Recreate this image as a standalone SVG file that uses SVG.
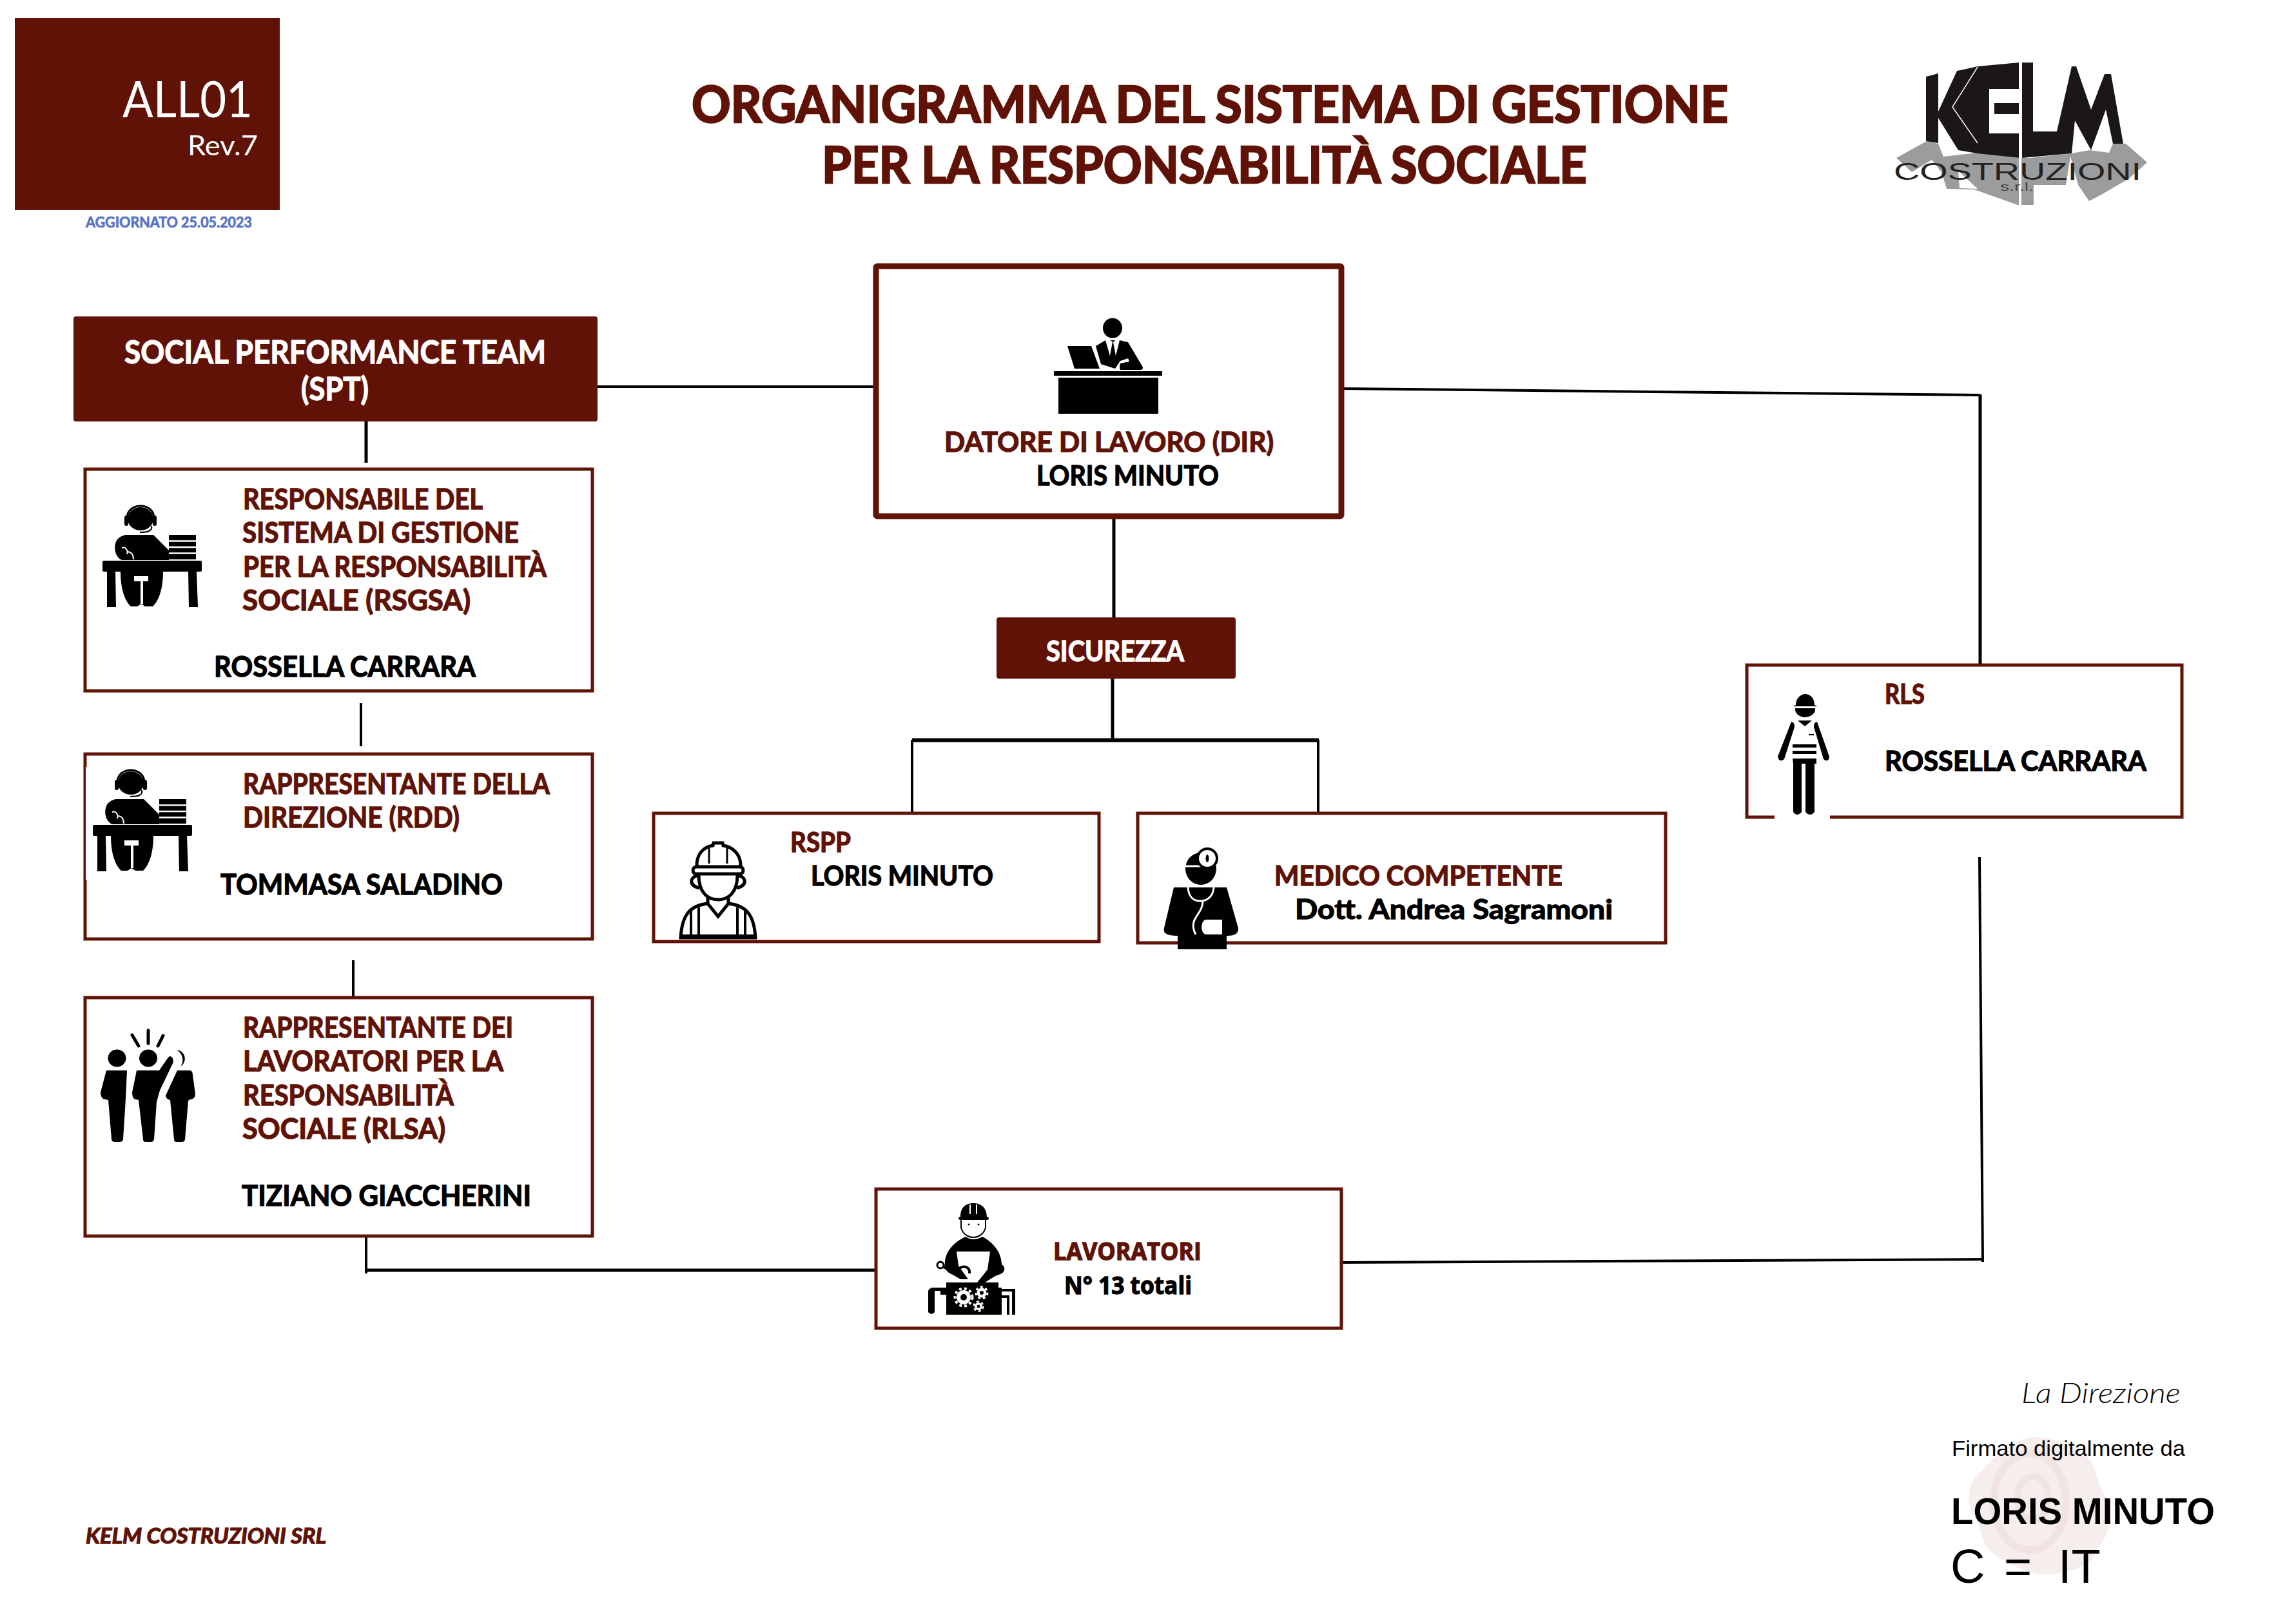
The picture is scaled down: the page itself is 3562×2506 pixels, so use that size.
<svg xmlns="http://www.w3.org/2000/svg" width="3562" height="2506" viewBox="0 0 3562 2506">
<style>
text{font-family:Lato,"Liberation Sans",sans-serif;font-weight:700;fill:#000;stroke:#000;stroke-width:1.3}
text.r,.r text{fill:#5f1205;stroke:#5f1205}
text.w{fill:#fff;stroke:#fff}
text.t{stroke-width:2.6}
text.n{stroke:none}
.box{fill:#fff;stroke:#5f1205;stroke-width:5}
.fill{fill:#5f1205}
.c{fill:none;stroke:#000;stroke-width:4}
.o{font-family:"Open Sans","Liberation Sans",sans-serif}
.l{font-family:"Liberation Sans",sans-serif}
</style>
<defs>
<g id="deskp">
<ellipse cx="59" cy="23" rx="20" ry="18"/>
<path d="M38 24C36 -4 82 -4 80 24" fill="none" stroke="#000" stroke-width="3"/>
<rect x="34" y="18" width="6" height="16" rx="3"/><rect x="78" y="18" width="6" height="16" rx="3"/>
<path d="M76 34C78 42 70 44 58 44" fill="none" stroke="#000" stroke-width="2"/>
<path d="M35 48H79L103 72V87H30C18 82 16 62 24 54Q28 50 35 48Z"/>
<path d="M30 68C36 66 40 72 38 78M38 74C44 74 48 78 48 86" fill="none" stroke="#fff" stroke-width="2"/>
<rect x="103" y="48" width="42" height="38"/>
<path d="M103 57.5h42M103 67h42M103 76.5h42" stroke="#fff" stroke-width="2.5"/>
<rect x="0" y="88" width="154" height="17" rx="2"/>
<path d="M7 105H20L21 160H7ZM133 105H146L148 160H134Z"/>
<path d="M28 105H94C94 130 88 150 78 159H66L60 155 54 159H44C34 150 28 130 28 105Z"/>
<path d="M49 112H71V120H63V155H59V120H49Z" fill="#fff"/>
</g>
</defs>

<g id="connectors" class="c">
<path d="M923 600H1360"/>
<path d="M568 652V718" stroke-width="5"/>
<path d="M560 1091V1158"/>
<path d="M548 1490V1555"/>
<path d="M568 1892V1976"/>
<path d="M568 1971H1360" stroke-width="5"/>
<path d="M1728 800V960" stroke-width="5"/>
<path d="M1726 1052V1148" stroke-width="5"/>
<path d="M1415 1148.500H2046" stroke-width="6"/>
<path d="M1415 1148V1262"/>
<path d="M2045 1148V1262"/>
<path d="M2080 603L3072 613"/>
<path d="M3072 612V1032" stroke-width="5"/>
<path d="M3071 1330L3076 1958"/>
<path d="M2078 1959L3076 1954"/>
</g>

<g id="header">
<rect x="23" y="28" width="411" height="298" class="fill"/>
<text x="190" y="182" font-size="78" textLength="202" lengthAdjust="spacingAndGlyphs" class="w n" style="font-weight:400">ALL01</text>
<text x="291" y="241" font-size="42" textLength="109" lengthAdjust="spacingAndGlyphs" class="w n" style="font-weight:400">Rev.7</text>
<text x="133" y="353" font-size="22" textLength="258" lengthAdjust="spacingAndGlyphs" style="fill:#5a72c5;stroke:#5a72c5;stroke-width:.7">AGGIORNATO 25.05.2023</text>
<text x="1073" y="190" font-size="78" textLength="1608" lengthAdjust="spacingAndGlyphs" class="r t">ORGANIGRAMMA DEL SISTEMA DI GESTIONE</text>
<text x="1275" y="284" font-size="78" textLength="1187" lengthAdjust="spacingAndGlyphs" class="r t">PER LA RESPONSABILITÀ SOCIALE</text>
</g>

<g id="logo">
<path fill="#9b9c9e" d="M2942 245L2989 219 3007 223 3015 243 3068 237 3132 245H3150L3214 238 3242 233 3272 237 3278 223 3298 223 3331 252 3303 277 3260 302 3241 312 3224 287 3155 287V318H3130L3063 294 3020 293 3012 267 2997 248 2966 267Z"/>
<path fill="#fff" d="M3038 265L3068 293 3040 292ZM3212 243L3224 287 3205 287Z"/>
<path fill="#1a1716" d="M2988 119L3007 114V222L2988 219Z"/>
<path fill="#1a1716" fill-rule="evenodd" d="M3036 110L3068 103 3133 97V138H3086V207H3133V245L3068 238 3038 233 3007 183V173Z"/>
<rect x="3094" y="160" width="39" height="17" fill="#1a1716"/>
<path d="M3068 104L3029 166 3068 222" fill="none" stroke="#fff" stroke-width="1.500"/>
<path fill="#1a1716" d="M3137 97H3154V204H3191L3214 103 3221 103 3244 170 3265 115 3275 115 3294 223 3278 223 3267 170 3244 233 3219 187 3214 238 3137 245Z"/>
<rect x="3132" y="97" width="4" height="221" fill="#fff"/>
<text x="2938" y="279" font-size="36" textLength="384" lengthAdjust="spacingAndGlyphs" class="l n" style="font-weight:400;fill:#222">COSTRUZIONI</text>
<text x="3103" y="296" font-size="18" textLength="52" lengthAdjust="spacingAndGlyphs" class="l n" style="font-weight:400;fill:#444">s.r.l.</text>
</g>

<g id="spt">
<rect x="114" y="491" width="813" height="163" rx="4" class="fill"/>
<text x="193" y="564" font-size="49" textLength="654" lengthAdjust="spacingAndGlyphs" class="w">SOCIAL PERFORMANCE TEAM</text>
<text x="467" y="621" font-size="49" textLength="105" lengthAdjust="spacingAndGlyphs" class="w">(SPT)</text>
</g>

<g id="rsgsa">
<rect x="132" y="728" width="787" height="344" class="box"/>
<use href="#deskp" x="159" y="782"/>
<g class="r" font-size="44">
<text x="377" y="790" textLength="372" lengthAdjust="spacingAndGlyphs">RESPONSABILE DEL</text>
<text x="376" y="842" textLength="429" lengthAdjust="spacingAndGlyphs">SISTEMA DI GESTIONE</text>
<text x="377" y="895" textLength="471" lengthAdjust="spacingAndGlyphs">PER LA RESPONSABILITÀ</text>
<text x="376" y="947" textLength="354" lengthAdjust="spacingAndGlyphs">SOCIALE (RSGSA)</text>
</g>
<text x="332" y="1050" font-size="44" textLength="406" lengthAdjust="spacingAndGlyphs">ROSSELLA CARRARA</text>
</g>

<g id="rdd">
<rect x="132" y="1170" width="787" height="287" class="box"/>
<rect x="133" y="1190" width="20" height="175" fill="#fff"/>
<use href="#deskp" x="144" y="1192"/>
<g class="r" font-size="44">
<text x="377" y="1232" textLength="476" lengthAdjust="spacingAndGlyphs">RAPPRESENTANTE DELLA</text>
<text x="377" y="1284" textLength="336" lengthAdjust="spacingAndGlyphs">DIREZIONE (RDD)</text>
</g>
<text x="342" y="1388" font-size="44" textLength="438" lengthAdjust="spacingAndGlyphs">TOMMASA SALADINO</text>
</g>

<g id="rlsa">
<rect x="132" y="1548" width="787" height="370" class="box"/>
<g id="people">
<path d="M215 1623l-10-17M230 1619v-20M245 1623l8-16" stroke="#000" stroke-width="5" stroke-linecap="round" fill="none"/>
<ellipse cx="181.500" cy="1642" rx="14" ry="13.500"/><ellipse cx="230" cy="1642" rx="14" ry="13.500"/>
<path d="M274 1629a14 14 0 0 1 6 26c6-8 4-20-6-26Z"/>
<path d="M165 1661H197L195 1705 191 1768Q190 1772 186 1772H178Q174 1772 173 1768L168 1707 160 1705Q156 1702 156 1695Z"/>
<path d="M212 1661H247L260 1642Q264 1636 268 1642L269 1648 248 1692 243 1710 239 1768Q238 1772 234 1772H226Q222 1772 222 1768L215 1707 208 1705Q205 1702 205 1695Z"/>
<path d="M275 1661H295Q299 1662 299 1668L303 1698Q303 1705 295 1706L292 1708 287 1768Q286 1772 282 1772H274Q270 1772 270 1768L264 1707Q257 1705 257 1700Z"/>
</g>
<g class="r" font-size="44">
<text x="377" y="1610" textLength="419" lengthAdjust="spacingAndGlyphs">RAPPRESENTANTE DEI</text>
<text x="377" y="1662" textLength="404" lengthAdjust="spacingAndGlyphs">LAVORATORI PER LA</text>
<text x="377" y="1715" textLength="327" lengthAdjust="spacingAndGlyphs">RESPONSABILITÀ</text>
<text x="376" y="1767" textLength="315" lengthAdjust="spacingAndGlyphs">SOCIALE (RLSA)</text>
</g>
<text x="375" y="1871" font-size="44" textLength="449" lengthAdjust="spacingAndGlyphs">TIZIANO GIACCHERINI</text>
</g>

<g id="dir">
<rect x="1359" y="413" width="722" height="388" rx="2" fill="#fff" stroke="#5f1205" stroke-width="9"/>
<ellipse cx="1726" cy="509" rx="15" ry="15.500"/>
<path d="M1700 537L1715 528 1722 552 1726 530 1722 528H1730L1727 531 1731 552 1737 528 1750 531 1772 568Q1775 572 1770 574H1738Q1736 570 1738 564L1752 561 1750 556 1738 560 1730 572 1708 565Z"/>
<path d="M1656 537H1693L1706 572H1667Z"/>
<rect x="1635" y="576" width="168" height="7"/>
<rect x="1642" y="586" width="155" height="56"/>
<text x="1465" y="701" font-size="42" textLength="511" lengthAdjust="spacingAndGlyphs" class="r">DATORE DI LAVORO (DIR)</text>
<text x="1608" y="753" font-size="42" textLength="283" lengthAdjust="spacingAndGlyphs">LORIS MINUTO</text>
</g>

<g id="sicurezza">
<rect x="1546" y="958" width="371" height="95" rx="4" class="fill"/>
<text x="1623" y="1026" font-size="43" textLength="214" lengthAdjust="spacingAndGlyphs" class="w">SICUREZZA</text>
</g>

<g id="rspp">
<rect x="1014" y="1262" width="691" height="199" class="box"/>
<g id="helmet" fill="none" stroke="#000" stroke-width="5">
<path d="M1081 1345C1080 1325 1092 1314 1106 1312 L1107 1308H1121L1122 1312C1136 1314 1150 1325 1149 1345"/>
<path d="M1100 1316V1340M1128 1316V1340" stroke-width="3"/>
<rect x="1075" y="1345" width="78" height="11" rx="5.500" fill="#fff" stroke-width="5"/>
<path d="M1084 1358C1084 1385 1098 1396 1114 1396 1130 1396 1144 1385 1144 1358"/>
<path d="M1083 1358C1069 1362 1069 1374 1085 1378M1145 1358C1159 1362 1159 1374 1143 1378"/>
<path d="M1098 1393V1402L1114 1422 1130 1402V1393"/>
<path d="M1098 1402C1070 1405 1058 1420 1056 1455H1172C1170 1420 1158 1405 1130 1402"/>
<path d="M1072 1410V1455M1156 1410V1455M1084 1408V1455M1144 1408V1455" stroke-width="4"/>
</g>
<rect x="1054" y="1450" width="120" height="7"/>
<text x="1226" y="1322" font-size="42" textLength="94" lengthAdjust="spacingAndGlyphs" class="r">RSPP</text>
<text x="1258" y="1374" font-size="42" textLength="283" lengthAdjust="spacingAndGlyphs">LORIS MINUTO</text>
</g>

<g id="medico">
<rect x="1765" y="1262" width="819" height="201" class="box"/>
<g id="doctor">
<ellipse cx="1863" cy="1348" rx="24" ry="25"/>
<path d="M1839 1344H1866" stroke="#fff" stroke-width="3"/>
<ellipse cx="1873" cy="1332" rx="15" ry="15" fill="#fff" stroke="#000" stroke-width="4"/>
<ellipse cx="1873" cy="1332" rx="2.500" ry="6"/>
<path d="M1821 1377H1903L1921 1440Q1922 1452 1905 1452H1903V1473H1827V1452C1810 1452 1804 1448 1806 1440Z"/>
<path d="M1843 1377C1844 1392 1852 1398 1862 1398 1872 1398 1882 1392 1883 1377M1866 1398C1866 1420 1842 1425 1855 1450" fill="none" stroke="#fff" stroke-width="3"/>
<path d="M1870 1427H1896V1450H1872C1862 1450 1862 1430 1870 1427Z" fill="#fff"/>
</g>
<text x="1977" y="1374" font-size="42" textLength="447" lengthAdjust="spacingAndGlyphs" class="r">MEDICO COMPETENTE</text>
<text x="2009" y="1426" font-size="42" textLength="493" lengthAdjust="spacingAndGlyphs">Dott. Andrea Sagramoni</text>
</g>

<g id="rls">
<rect x="2710" y="1032" width="675" height="236" class="box"/>
<rect x="2753" y="1255" width="86" height="20" fill="#fff"/>
<g id="worker-vest">
<path d="M2786 1094C2786 1082 2795 1077 2801 1077 2807 1077 2815 1082 2815 1094L2820 1096H2781Z"/>
<path d="M2785 1099H2816C2817 1108 2808 1113 2800 1113 2793 1113 2784 1108 2785 1099Z"/>
<path d="M2789 1118H2811L2800 1127Z"/>
<path d="M2779 1120Q2784 1120 2784 1128L2768 1178Q2760 1184 2758 1174ZM2819 1120Q2814 1120 2814 1128L2829 1178Q2837 1184 2838 1174Z"/>
<rect x="2781" y="1155" width="37" height="5"/><rect x="2781" y="1165" width="37" height="5"/>
<rect x="2806" y="1139" width="8" height="2"/>
<path d="M2781 1177H2818V1185H2815V1260Q2808 1268 2801 1260V1185H2795V1260Q2788 1268 2782 1260V1185Z"/>
</g>
<text x="2924" y="1092" font-size="42" textLength="62" lengthAdjust="spacingAndGlyphs" class="r">RLS</text>
<text x="2924" y="1196" font-size="42" textLength="406" lengthAdjust="spacingAndGlyphs">ROSSELLA CARRARA</text>
</g>

<g id="lavoratori">
<rect x="1359" y="1845" width="722" height="216" class="box"/>
<g id="mech">
<path d="M1490 1888C1490 1872 1500 1867 1510 1867 1520 1867 1530 1872 1531 1888 1535 1888 1535 1893 1531 1893H1490C1486 1893 1486 1888 1490 1888Z"/>
<path d="M1505 1869V1884M1515 1869V1884" stroke="#fff" stroke-width="2"/>
<path d="M1491 1893V1905C1494 1916 1503 1920 1510 1920 1517 1920 1526 1916 1529 1905V1893" fill="none" stroke="#000" stroke-width="2"/>
<circle cx="1503" cy="1900" r="1.500"/><circle cx="1518" cy="1900" r="1.500"/>
<path d="M1498 1919Q1510 1927 1524 1919C1542 1928 1554 1945 1554 1962 1560 1965 1560 1974 1552 1977L1544 1980 1528 1990H1516L1532 1970 1536 1942 1484 1942 1487 1964 1502 1985 1490 1985 1478 1978C1468 1974 1464 1968 1466 1960 1466 1944 1478 1928 1498 1919Z"/>
<circle cx="1459" cy="1963" r="5" fill="none" stroke="#000" stroke-width="3"/>
<path d="M1464 1966L1476 1970" stroke="#000" stroke-width="5"/>
<path d="M1488 1968C1498 1962 1505 1968 1504 1976" fill="none" stroke="#000" stroke-width="4"/>
<path d="M1468 1990H1549V1998H1554V2040H1468V2009H1459V2003H1450V2036Q1445 2042 1440 2036V2004Q1440 2000 1446 1998H1468Z"/>
<path d="M1554 2000H1575V2040H1570V2004H1554ZM1554 2010H1566V2040H1562V2014H1554Z"/>
<g fill="#fff"><circle cx="1495" cy="2013" r="11"/><circle cx="1523" cy="2006" r="7.500"/><circle cx="1518" cy="2027" r="6"/></g>
<g fill="none" stroke="#fff" stroke-dasharray="4 4"><circle cx="1495" cy="2013" r="13.500" stroke-width="4"/><circle cx="1523" cy="2006" r="9" stroke-width="3"/><circle cx="1518" cy="2027" r="7.500" stroke-width="2.500"/></g>
<circle cx="1495" cy="2013" r="5"/><circle cx="1523" cy="2006" r="3"/><circle cx="1518" cy="2027" r="2.500"/>
</g>
<text x="1634" y="1955" font-size="38" textLength="230" lengthAdjust="spacingAndGlyphs" class="r o">LAVORATORI</text>
<text x="1651" y="2008" font-size="38" textLength="198" lengthAdjust="spacingAndGlyphs" class="o">N° 13 totali</text>
</g>

<g id="firma">
<path fill="#f6eeed" d="M3157 2230C3195 2232 3240 2250 3250 2280 3256 2310 3278 2335 3274 2363 3270 2385 3255 2400 3247 2417 3235 2435 3205 2440 3184 2443 3155 2446 3125 2430 3106 2420 3090 2410 3078 2400 3075 2383 3070 2360 3050 2340 3055 2313 3058 2295 3072 2285 3083 2273 3095 2260 3110 2248 3126 2240 3135 2234 3146 2230 3157 2230Z"/>
<ellipse cx="3149" cy="2330" rx="56" ry="75" fill="none" stroke="#f1e3e1" stroke-width="12"/>
<ellipse cx="3154" cy="2325" rx="24" ry="34" fill="none" stroke="#f1e3e1" stroke-width="10"/>
<text x="3136" y="2177" font-size="44" textLength="247" lengthAdjust="spacingAndGlyphs" class="n" style="font-weight:300;font-style:italic">La Direzione</text>
<text x="3028" y="2259" font-size="33" textLength="362" lengthAdjust="spacingAndGlyphs" class="l n" style="font-weight:400">Firmato digitalmente da</text>
<text x="3027" y="2365" font-size="57" textLength="409" lengthAdjust="spacingAndGlyphs" class="l n">LORIS MINUTO</text>
<text y="2456" font-size="74" class="l n" style="font-weight:400"><tspan x="3026">C</tspan> <tspan x="3109">=</tspan> <tspan x="3193">IT</tspan></text>
</g>

<text x="133" y="2395" font-size="33" textLength="373" lengthAdjust="spacingAndGlyphs" class="r" style="font-style:italic">KELM COSTRUZIONI SRL</text>
</svg>
